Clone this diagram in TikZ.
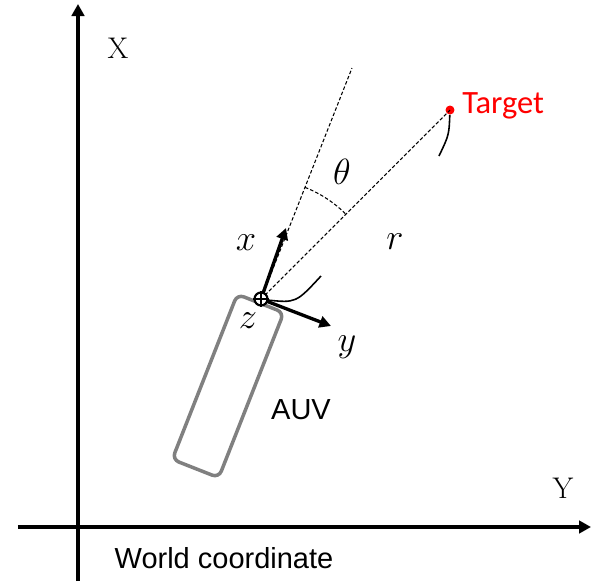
\documentclass[tikz,border=0pt]{standalone}
\usepackage{fontspec}
\setsansfont{Liberation Sans}
\newfontfamily\calfont{Carlito}
\usetikzlibrary{arrows.meta}

\begin{document}
\begin{tikzpicture}[x=0.02cm, y=-0.02cm,
      axis/.style={line width=2.1pt, -{Triangle[length=2.4mm, width=2.5mm]}},
      body/.style={line width=1.9pt, -{Triangle[length=2.3mm, width=2.3mm]}},
      ray/.style={dashed, dash pattern=on 2pt off 1.2pt, line width=0.6pt},
      lbl/.style={font=\fontsize{17}{20}\selectfont, inner sep=0pt},
      mlbl/.style={font=\fontsize{20}{22}\selectfont, inner sep=0pt},
      sflbl/.style={font=\sffamily\fontsize{16.5}{20}\selectfont, inner sep=0pt}]
    \useasboundingbox (0,0) rectangle (593,583);
    % world frame
    \coordinate (wx0) at (78,581);
    \coordinate (wx1) at (78,4);
    \coordinate (wy0) at (18,527);
    \coordinate (wy1) at (591,527);
    \draw[axis] (wx0) -- (wx1);
    \draw[axis] (wy0) -- (wy1);
    \node[lbl] (X) at (118,48) {X};
    \node[lbl] (Y) at (563,488) {Y};
    \node[sflbl] (world) at (224,558) {World coordinate};
    % vehicle body
    \node[draw=black!50, line width=2pt, rounded corners=4pt, minimum width=1cm,
          minimum height=3.55cm, rotate=-21.5] (auv) at (228,386) {};
    \node[sflbl] (auvlbl) at (301,410) {AUV};
    \coordinate (o) at (261,299);
    \coordinate (xt) at (286,228);
    \coordinate (yt) at (331,326);
    \coordinate (head) at (352,68);
    \node[circle, fill=red, inner sep=0pt, minimum size=0.18cm] (tgt) at (450,110) {};
    \node[text=red, font=\calfont\fontsize{18.5}{20}\selectfont, inner sep=0pt, anchor=west] (tgtlbl) at (462,106) {Target};
    % heading and line of sight
    \draw[ray] (o) -- (head);
    \draw[ray] (o) -- (tgt.center);
    \draw[ray] (o) ++(-68.5:120) arc[start angle=-68.5, end angle=-45, radius=120];
    \draw[line width=0.9pt] (o) ++(6,1) .. controls (296,303) .. (321,276);
    \draw[line width=0.9pt] (tgt) .. controls (449,135) .. (439,156);
    % body frame
    \draw[body] (o) -- (xt);
    \draw[body] (o) -- (yt);
    \node[circle, draw, fill=white, line width=1.2pt, minimum size=0.26cm, inner sep=0pt] (om) at (o) {};
    \draw[line width=0.7pt] (om.north) -- (om.south) (om.west) -- (om.east);
    \node[mlbl] (xl) at (246,243) {$x$};
    \node[mlbl] (yl) at (347,347) {$y$};
    \node[mlbl] (zl) at (248,321) {$z$};
    \node[mlbl] (thl) at (342,172) {$\theta$};
    \node[mlbl] (rl) at (395,242) {$r$};
  \end{tikzpicture}
\end{document}
